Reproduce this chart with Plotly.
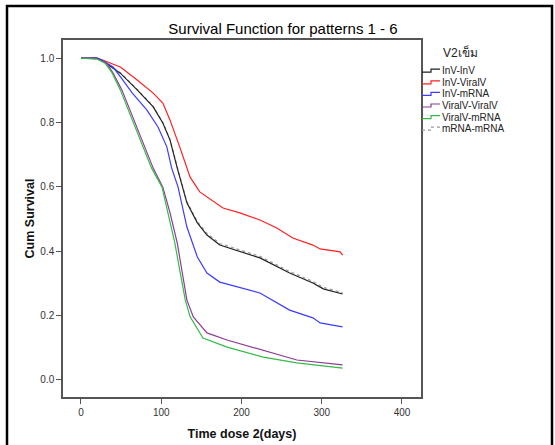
import plotly.graph_objects as go

# Kaplan-Meier style survival curves
chart_title = "Survival Function for patterns 1 - 6"
groups = ["InV-InV", "InV-ViralV", "InV-mRNA", "ViralV-ViralV", "ViralV-mRNA", "mRNA-mRNA"]
colors = ["#222222", "#ff2020", "#3c3cff", "#8e3a96", "#33bb44", "#9a9a9a"]

inv_inv_days = [0, 20, 27, 49, 70, 90, 102, 111, 120, 132, 145, 157, 173, 223, 260, 289, 302, 326]
inv_inv_surv = [1.0, 1.0, 0.991, 0.953, 0.901, 0.848, 0.798, 0.745, 0.658, 0.550, 0.488, 0.450,
                0.419, 0.379, 0.332, 0.301, 0.283, 0.267]

inv_viralv_days = [0, 20, 27, 49, 70, 90, 102, 111, 123, 136, 148, 165, 177, 198, 223, 244, 264,
                   289, 298, 323, 326]
inv_viralv_surv = [1.0, 1.0, 0.994, 0.972, 0.932, 0.891, 0.860, 0.807, 0.724, 0.630, 0.584, 0.553,
                   0.534, 0.519, 0.497, 0.472, 0.441, 0.419, 0.407, 0.398, 0.388]

inv_mrna_days = [0, 20, 26, 40, 52, 64, 82, 96, 107, 113, 121, 132, 145, 157, 173, 223, 260, 289,
                 298, 326]
inv_mrna_surv = [1.0, 1.0, 0.994, 0.972, 0.932, 0.891, 0.839, 0.786, 0.724, 0.658, 0.599, 0.475,
                 0.382, 0.332, 0.304, 0.270, 0.217, 0.193, 0.177, 0.165]

viralv_viralv_days = [0, 20, 32, 40, 51, 61, 70, 80, 90, 102, 111, 120, 126, 132, 140, 157, 182,
                      227, 269, 326]
viralv_viralv_surv = [1.0, 0.997, 0.984, 0.953, 0.901, 0.839, 0.786, 0.724, 0.658, 0.599, 0.519,
                      0.425, 0.342, 0.248, 0.196, 0.146, 0.124, 0.093, 0.062, 0.047]

viralv_mrna_days = [0, 20, 30, 39, 49, 59, 67, 77, 88, 101, 108, 117, 123, 130, 136, 152, 182,
                    227, 269, 326]
viralv_mrna_surv = [1.0, 0.997, 0.984, 0.953, 0.901, 0.839, 0.786, 0.724, 0.658, 0.599, 0.519,
                    0.425, 0.342, 0.248, 0.196, 0.130, 0.102, 0.071, 0.053, 0.037]

mrna_mrna_days = [0, 20, 27, 49, 70, 90, 102, 111, 120, 132, 145, 157, 173, 223, 260, 289, 302, 326]
mrna_mrna_surv = [1.0, 1.0, 0.992, 0.955, 0.903, 0.850, 0.800, 0.747, 0.661, 0.554, 0.492, 0.455,
                  0.424, 0.384, 0.337, 0.306, 0.288, 0.271]

series = [
    (inv_inv_days, inv_inv_surv),
    (inv_viralv_days, inv_viralv_surv),
    (inv_mrna_days, inv_mrna_surv),
    (viralv_viralv_days, viralv_viralv_surv),
    (viralv_mrna_days, viralv_mrna_surv),
    (mrna_mrna_days, mrna_mrna_surv),
]

x_ticks = [0, 100, 200, 300, 400]
y_ticks = [0.0, 0.2, 0.4, 0.6, 0.8, 1.0]

FONT = "Liberation Sans, Arial, sans-serif"
W, H = 555, 445
L, R, T, B = 63, 134, 40, 48


def px(x):
    return (x - L) / (W - L - R)


def py(y):
    return (H - B - y) / (H - T - B)


fig = go.Figure()

# draw the dotted mRNA-mRNA curve first so black stays on top
order = [5, 0, 1, 2, 3, 4]
for i in order:
    days, surv = series[i]
    fig.add_trace(
        go.Scatter(
            x=days,
            y=surv,
            mode="lines",
            name=groups[i],
            line=dict(color=colors[i], width=1.2, dash="dot" if i == 5 else "solid"),
            showlegend=False,
        )
    )

shapes = [
    # outer border of the picture
    dict(type="rect", xref="paper", yref="paper", x0=px(7), x1=px(552), y0=py(448), y1=py(6),
         line=dict(color="black", width=2.5)),
]
annotations = [
    dict(text="V2เข็ม", xref="paper", yref="paper", x=px(441), y=py(52), xanchor="left",
         yanchor="middle", showarrow=False, font=dict(size=12, color="#222", family=FONT)),
]

# hand-built legend with step symbols like the SPSS output
for k, name in enumerate(groups):
    yc = 70.7 + 11.6 * k
    path = (f"M {px(422)},{py(yc + 1.5)} L {px(431)},{py(yc + 1.5)} "
            f"L {px(431)},{py(yc - 1.5)} L {px(440)},{py(yc - 1.5)}")
    shapes.append(dict(type="path", xref="paper", yref="paper", path=path,
                       line=dict(color=colors[k], width=1.2, dash="dot" if k == 5 else "solid")))
    annotations.append(dict(text=name, xref="paper", yref="paper", x=px(440), y=py(yc),
                            xanchor="left", yanchor="middle", showarrow=False,
                            font=dict(size=10, color="#222", family=FONT)))

fig.update_layout(
    width=W,
    height=H,
    margin=dict(l=L, r=R, t=T, b=B),
    paper_bgcolor="white",
    plot_bgcolor="white",
    font=dict(family=FONT, size=10, color="#333"),
    title=dict(text=chart_title, x=283 / W, xanchor="center", y=1 - 29 / H, yanchor="middle",
               font=dict(size=15, color="#000", family=FONT)),
    shapes=shapes,
    annotations=annotations,
    showlegend=False,
)

fig.update_xaxes(
    range=[-22.4, 423.7],
    tickvals=x_ticks,
    ticktext=[str(v) for v in x_ticks],
    ticks="outside",
    ticklen=5,
    tickcolor="#555",
    showline=True,
    linecolor="#555",
    linewidth=1.5,
    mirror=True,
    showgrid=False,
    zeroline=False,
    automargin=False,
    tickfont=dict(size=10, color="#333"),
    title=dict(text="<b>Time dose 2(days)</b>", font=dict(size=12.5, color="#111"), standoff=12),
)
fig.update_yaxes(
    range=[-0.053, 1.056],
    tickvals=y_ticks,
    ticktext=[f"{v:.1f}" for v in y_ticks],
    ticks="outside",
    ticklen=5,
    tickcolor="#555",
    showline=True,
    linecolor="#555",
    linewidth=1.5,
    mirror=True,
    showgrid=False,
    zeroline=False,
    automargin=False,
    tickfont=dict(size=10, color="#333"),
    title=dict(text="<b>Cum Survival</b>", font=dict(size=12.5, color="#111"), standoff=3),
)

# the page body has an 8px default margin; drop it so the figure sits at the window corner
fig.write_html(
    "out.html",
    config={"displayModeBar": False},
    post_script="document.body.style.margin = '0';",
)
